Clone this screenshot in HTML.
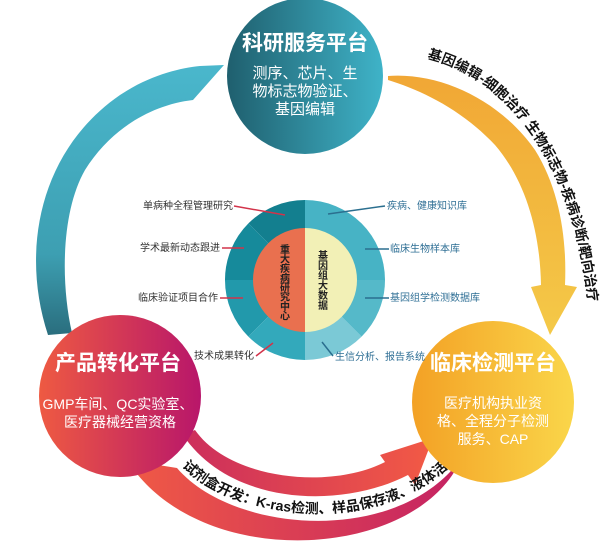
<!DOCTYPE html>
<html><head><meta charset="utf-8"><style>
html,body{margin:0;padding:0;background:#fff;}
svg{display:block;font-family:"Liberation Sans","Noto Sans CJK SC",sans-serif;}
</style></head><body>
<svg width="609" height="554" viewBox="0 0 609 554" xmlns="http://www.w3.org/2000/svg">
<defs>
<linearGradient id="gTop" x1="0" y1="0" x2="1" y2="0"><stop offset="0" stop-color="#1f5f6e"/><stop offset="1" stop-color="#3fb3c8"/></linearGradient>
<linearGradient id="gLeft" x1="0" y1="0" x2="1" y2="0"><stop offset="0" stop-color="#ee5a42"/><stop offset="1" stop-color="#b8166a"/></linearGradient>
<linearGradient id="gRight" x1="0" y1="0" x2="1" y2="0"><stop offset="0" stop-color="#f3a125"/><stop offset="1" stop-color="#fad64a"/></linearGradient>
<linearGradient id="gBlue" x1="0" y1="0" x2="0" y2="1"><stop offset="0" stop-color="#4ab7cc"/><stop offset="0.7" stop-color="#3d9fb2"/><stop offset="1" stop-color="#2a6e7e"/></linearGradient>
<linearGradient id="gOr" x1="0" y1="0" x2="0" y2="1"><stop offset="0" stop-color="#f1a735"/><stop offset="1" stop-color="#f4c948"/></linearGradient>
<linearGradient id="gB1" x1="0" y1="0" x2="1" y2="0"><stop offset="0" stop-color="#cc2e5c"/><stop offset="1" stop-color="#f25a45"/></linearGradient>
<linearGradient id="gB2" x1="0" y1="0" x2="1" y2="0"><stop offset="0" stop-color="#f05a45"/><stop offset="1" stop-color="#c42263"/></linearGradient>
<path id="tpR" d="M 425,58 C 500,75 570,150 588,300" fill="none"/>
<path id="tpB" d="M 178,462 C 232,524 385,538 458,458" fill="none"/>
</defs>

<path d="M48,335 C20,250 40,150 120,95 C150,75 180,68 200,66 L224,65 L193,100 C150,105 110,130 85,170 C62,210 60,280 72,333 Z" fill="url(#gBlue)"/>
<path d="M388,76 C440,72 500,100 535,150 C560,190 567,240 565,285 L577,287 L550,335 L531,287 L541,285 C540,230 525,180 495,145 C460,108 420,90 388,80 Z" fill="url(#gOr)"/>
<text font-size="14" font-weight="bold" fill="#111"><textPath href="#tpR" startOffset="2">基因编辑-细胞治疗  生物标志物-疾病诊断/靶向治疗</textPath></text>

<path d="M127,460 L177,468 C230,530 380,545 450,472 L462,457 C420,560 200,575 127,460 Z" fill="url(#gB2)"/>
<path d="M183,435 L195,430 C230,480 330,490 385,462 L380,455 L433,438 L415,485 L408,475 C340,510 230,505 183,435 Z" fill="url(#gB1)"/>
<text font-size="14" font-weight="bold" fill="#111"><textPath href="#tpB" startOffset="6">试剂盒开发：K-ras检测、样品保存液、液体活检、</textPath></text>

<circle cx="305" cy="76" r="78" fill="url(#gTop)"/>
<text x="305" y="50" font-size="21" font-weight="bold" fill="#fff" text-anchor="middle">科研服务平台</text>
<g font-size="15" fill="#fff" text-anchor="middle">
<text x="305" y="78">测序、芯片、生</text>
<text x="305" y="96">物标志物验证、</text>
<text x="305" y="114">基因编辑</text>
</g>

<circle cx="120" cy="396" r="81" fill="url(#gLeft)"/>
<text x="118" y="370" font-size="21" font-weight="bold" fill="#fff" text-anchor="middle">产品转化平台</text>
<g font-size="14" fill="#fff" text-anchor="middle">
<text x="118" y="409">GMP车间、QC实验室、</text>
<text x="120" y="427">医疗器械经营资格</text>
</g>

<circle cx="493" cy="402" r="81" fill="url(#gRight)"/>
<text x="493" y="370" font-size="21" font-weight="bold" fill="#fff" text-anchor="middle">临床检测平台</text>
<g font-size="14" fill="#fff" text-anchor="middle">
<text x="493" y="408">医疗机构执业资</text>
<text x="493" y="426">格、全程分子检测</text>
<text x="493" y="444">服务、CAP</text>
</g>

<g transform="translate(305,280)">
<path d="M0,-80 A80,80 0 0 0 -56.6,-56.6 L0,0 Z" fill="#137f8f"/>
<path d="M-56.6,-56.6 A80,80 0 0 0 -80,0 L0,0 Z" fill="#168a9b"/>
<path d="M-80,0 A80,80 0 0 0 -56.6,56.6 L0,0 Z" fill="#2299ab"/>
<path d="M-56.6,56.6 A80,80 0 0 0 0,80 L0,0 Z" fill="#33a9bb"/>
<path d="M0,80 A80,80 0 0 0 56.6,56.6 L0,0 Z" fill="#7bc9d6"/>
<path d="M56.6,56.6 A80,80 0 0 0 80,0 L0,0 Z" fill="#55b9c9"/>
<path d="M80,0 A80,80 0 0 0 0,-80 L0,0 Z" fill="#47b3c5"/>
<path d="M0,-52 A52,52 0 0 0 0,52 Z" fill="#e9704f"/>
<path d="M0,-52 A52,52 0 0 1 0,52 Z" fill="#f2f0b6"/>
</g>
<g font-size="10" font-weight="bold" fill="#222" text-anchor="middle">
<text x="285" y="253">重</text><text x="285" y="262.5">大</text><text x="285" y="272">疾</text><text x="285" y="281.5">病</text><text x="285" y="291">研</text><text x="285" y="300.5">究</text><text x="285" y="310">中</text><text x="285" y="319.5">心</text>
</g>
<g font-size="10" font-weight="bold" fill="#222" text-anchor="middle">
<text x="323" y="259">基</text><text x="323" y="269">因</text><text x="323" y="279">组</text><text x="323" y="289">大</text><text x="323" y="299">数</text><text x="323" y="309">据</text>
</g>

<g stroke="#d2334a" stroke-width="1.5">
<line x1="234" y1="206" x2="285" y2="215"/>
<line x1="222" y1="248" x2="244" y2="248"/>
<line x1="220" y1="298" x2="243" y2="298"/>
<line x1="256" y1="356" x2="273" y2="343"/>
</g>
<g stroke="#2b6f8f" stroke-width="1.5">
<line x1="328" y1="214" x2="385" y2="206"/>
<line x1="365" y1="249" x2="389" y2="249"/>
<line x1="365" y1="298" x2="389" y2="298"/>
<line x1="322" y1="342" x2="333" y2="356"/>
</g>
<g font-size="10" fill="#333" text-anchor="end">
<text x="233" y="209">单病种全程管理研究</text>
<text x="220" y="251">学术最新动态跟进</text>
<text x="218" y="301">临床验证项目合作</text>
<text x="254" y="359">技术成果转化</text>
</g>
<g font-size="10" fill="#2f6f95">
<text x="387" y="209">疾病、健康知识库</text>
<text x="390" y="252">临床生物样本库</text>
<text x="390" y="301">基因组学检测数据库</text>
<text x="335" y="360">生信分析、报告系统</text>
</g>
</svg>
</body></html>
